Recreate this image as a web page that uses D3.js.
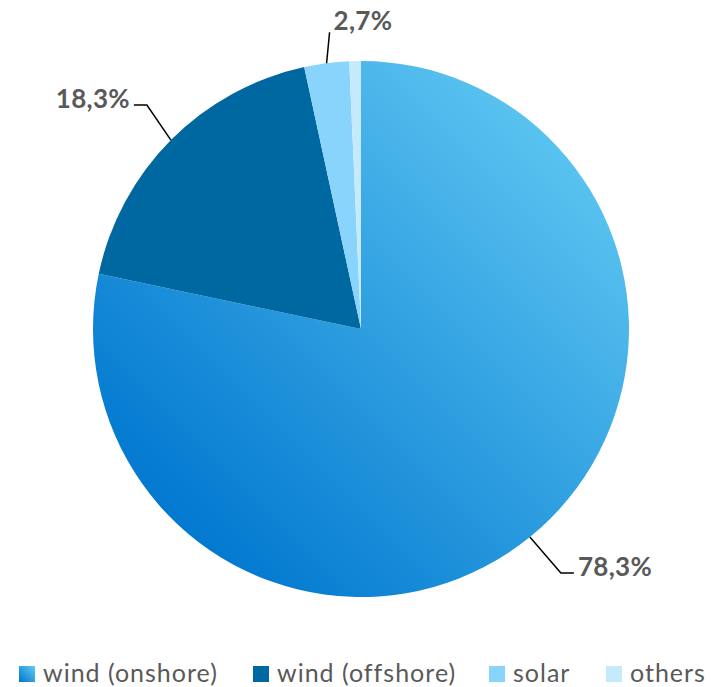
<!DOCTYPE html>
<html>
<head>
<meta charset="utf-8">
<script src="https://cdn.jsdelivr.net/npm/d3@7"></script>
<style>
  body { margin: 0; background: #fff; }
  svg { display: block; font-family: Lato, "Open Sans", sans-serif; }
</style>
</head>
<body>
<div id="chart"></div>
<script>
const categories = ["wind (onshore)", "wind (offshore)", "solar", "others"];
const shares = [78.3, 18.3, 2.7, 0.7];
const labels = ["78,3%", "18,3%", "2,7%", null];

const width = 712, height = 687;
const cx = 361, cy = 329, radius = 268;

const svg = d3.select("#chart").append("svg")
  .attr("width", width)
  .attr("height", height);

const defs = svg.append("defs");
const grad = defs.append("linearGradient")
  .attr("id", "onshoreGrad")
  .attr("gradientUnits", "userSpaceOnUse")
  .attr("x1", cx - radius * 0.8).attr("y1", cy + radius * 0.8)
  .attr("x2", cx + radius * 0.8).attr("y2", cy - radius * 0.8);
grad.append("stop").attr("offset", "0%").attr("stop-color", "#0077cf");
grad.append("stop").attr("offset", "100%").attr("stop-color", "#62caf3");

const legGrad = defs.append("linearGradient")
  .attr("id", "legendGrad")
  .attr("x1", "0%").attr("y1", "100%")
  .attr("x2", "100%").attr("y2", "0%");
legGrad.append("stop").attr("offset", "0%").attr("stop-color", "#0077cf");
legGrad.append("stop").attr("offset", "100%").attr("stop-color", "#62caf3");

const colors = ["url(#onshoreGrad)", "#0068a0", "#88d4fc", "#c5eafc"];
const legendColors = ["url(#legendGrad)", "#0068a0", "#88d4fc", "#c5eafc"];

const pie = d3.pie().sort(null).value(d => d)(shares);
const arc = d3.arc().innerRadius(0).outerRadius(radius);
const edge = d3.arc().innerRadius(radius).outerRadius(radius);

const g = svg.append("g").attr("transform", `translate(${cx},${cy})`);

g.selectAll("path.slice")
  .data(pie)
  .join("path")
  .attr("class", "slice")
  .attr("d", arc)
  .attr("fill", (d, i) => colors[i]);

// leader line shape per label: elbow offset, horizontal run, text anchor
const leader = [
  { dx: 31, dy: 36, run: 13, anchor: "start" },
  { dx: -24, dy: -35, run: -13, anchor: "end" },
  { dx: 3, dy: -31, run: 0, anchor: "start" }
];

pie.forEach((d, i) => {
  if (!labels[i]) return;
  const [x0, y0] = edge.centroid(d);
  const L = leader[i];
  const x1 = x0 + L.dx, y1 = y0 + L.dy;
  const x2 = x1 + L.run;
  g.append("polyline")
    .attr("points", [[x0, y0], [x1, y1], [x2, y1]].map(p => p.join(",")).join(" "))
    .attr("fill", "none")
    .attr("stroke", "#000")
    .attr("stroke-width", 1.5);
  g.append("text")
    .attr("x", x2 + (L.anchor === "start" ? 4 : -4))
    .attr("y", y1 + (i === 2 ? -2 : 3))
    .attr("text-anchor", L.anchor)
    .attr("font-size", 26)
    .attr("font-weight", "bold")
    .attr("letter-spacing", 0.3)
    .attr("fill", "#595959")
    .text(labels[i]);
});

// legend
const legendX = [19, 253, 489, 606];
const legend = svg.append("g").attr("transform", "translate(0,666)");
const item = legend.selectAll("g")
  .data(categories)
  .join("g")
  .attr("transform", (d, i) => `translate(${legendX[i]},0)`);
item.append("rect")
  .attr("width", 16).attr("height", 16)
  .attr("fill", (d, i) => legendColors[i]);
item.append("text")
  .attr("x", 24).attr("y", 16)
  .attr("font-size", 25)
  .attr("letter-spacing", 1)
  .attr("fill", "#595959")
  .text(d => d);
</script>
</body>
</html>
